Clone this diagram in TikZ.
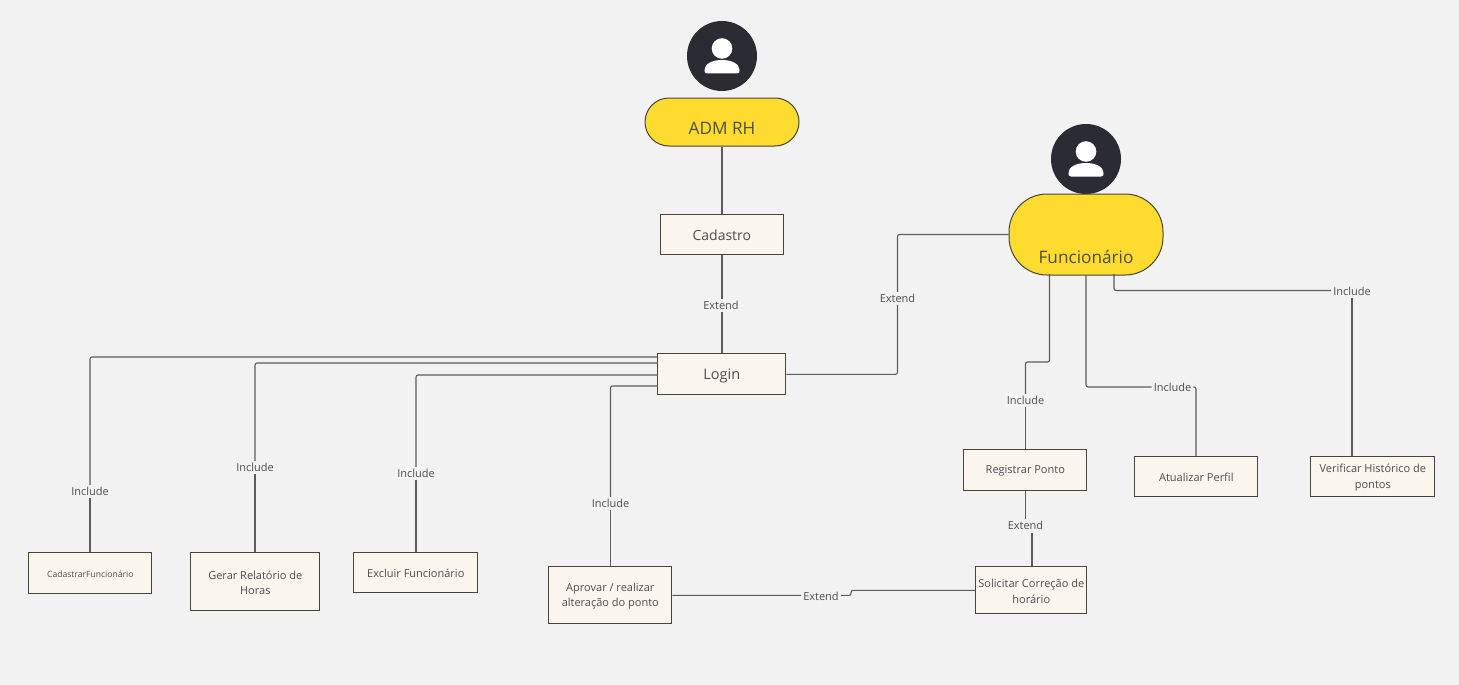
\documentclass[tikz,border=0pt]{standalone}
\usepackage{fontspec}
\setmainfont{Open Sans}
\definecolor{bgc}{HTML}{F2F2F2}
\definecolor{yel}{HTML}{FEDC2F}
\definecolor{dark}{HTML}{2B2C33}
\definecolor{boxfill}{HTML}{FAF6EE}
\definecolor{boxline}{HTML}{45453C}
\definecolor{linec}{HTML}{5C5C5C}
\definecolor{txt}{HTML}{4D4D4D}
\tikzset{
  boxn/.style={draw=boxline,fill=boxfill,line width=1.2pt,inner sep=1pt,xshift=-.2pt,yshift=.2pt},
  boxtxt/.style={text=txt,align=center,inner sep=0pt,yshift=-.9pt,font=\fontsize{11}{15.5}\selectfont},
  bigtxt/.style={boxtxt,font=\fontsize{14}{16}\selectfont},
  pill/.style={draw=boxline,fill=yel,line width=1pt,rounded corners=#1,inner sep=0pt},
  pilltext/.style={text=txt,font=\fontsize{17.2}{20}\selectfont},
  conn/.style={draw=linec,line width=1.1pt,rounded corners=2pt},
  lab/.style={text=txt,font=\fontsize{11}{13}\selectfont,inner sep=2pt},
  avatar/.style={fill=dark,draw=none,circle,minimum size=70pt,inner sep=0pt},
  person/.style={fill=white,draw=none}
}
\newcommand{\personicon}[2]{%
  \fill[person] (#1,#2-7.5) circle (10.3);
  \fill[person] (#1-15,#2+17.5) .. controls (#1-17.5,#2+17.5) and (#1-17.5,#2+16) .. (#1-17.5,#2+14)
     .. controls (#1-17.5,#2+8) and (#1-10,#2+4) .. (#1,#2+4)
     .. controls (#1+10,#2+4) and (#1+17.5,#2+8) .. (#1+17.5,#2+14)
     .. controls (#1+17.5,#2+16) and (#1+17.5,#2+17.5) .. (#1+15,#2+17.5) -- cycle;
}
\begin{document}
\begin{tikzpicture}[x=1pt,y=-1pt]
\path[fill=bgc,use as bounding box] (0,0) rectangle (1459,685);
% actors
\node[avatar] (admicon) at (722,56) {};
\personicon{722}{56}
\node[avatar] (funcicon) at (1086,159) {};
\personicon{1086}{159}
\node[pill=24pt,minimum width=154pt,minimum height=48pt,label={[pilltext,yshift=-6pt]center:ADM RH}] (adm) at (722,122) {};
\node[pill=38pt,minimum width=154pt,minimum height=81pt,label={[pilltext,yshift=-22pt]center:Funcionário}] (func) at (1086,234.5) {};
% boxes
\node[boxn,minimum width=123pt,minimum height=40pt,label={[bigtxt]center:Cadastro}] (cadastro) at (722,235) {};
\node[boxn,minimum width=128pt,minimum height=41pt,label={[bigtxt,yshift=-.6pt,font=\fontsize{14.5}{16}\selectfont]center:Login}] (login) at (722,374.5) {};
\node[boxn,minimum width=123pt,minimum height=41pt,label={[boxtxt,font=\fontsize{8.6}{10}\selectfont]center:CadastrarFuncionário}] (cadf) at (90.5,573.5) {};
\node[boxn,minimum width=129pt,minimum height=58pt,label={[boxtxt]center:Gerar Relatório de\\Horas}] (gerar) at (255.5,582) {};
\node[boxn,minimum width=124pt,minimum height=40pt,label={[boxtxt]center:Excluir Funcionário}] (excluir) at (416,573) {};
\node[boxn,minimum width=123pt,minimum height=57pt,label={[boxtxt]center:Aprovar / realizar\\alteração do ponto}] (aprovar) at (610.5,595.5) {};
\node[boxn,minimum width=111pt,minimum height=47pt,label={[boxtxt]center:Solicitar Correção de\\horário}] (solicitar) at (1031.5,590.5) {};
\node[boxn,minimum width=123pt,minimum height=41pt,label={[boxtxt]center:Registrar Ponto}] (registrar) at (1025.5,470.5) {};
\node[boxn,minimum width=123pt,minimum height=40pt,label={[boxtxt]center:Atualizar Perfil}] (atualizar) at (1196.5,477) {};
\node[boxn,minimum width=124pt,minimum height=40pt,label={[boxtxt]center:Verificar Histórico de\\pontos}] (verificar) at (1373,477) {};
% labels
\node[lab] (e1) at (721,305.4) {Extend};
\node[lab] (e2) at (897.5,298.4) {Extend};
\node[lab] (e3) at (1025.5,525.4) {Extend};
\node[lab] (e4) at (821,596.4) {Extend};
\node[lab] (i1) at (90,491.4) {Include};
\node[lab] (i2) at (255,467.4) {Include};
\node[lab] (i3) at (416,473.4) {Include};
\node[lab] (i4) at (610.5,503.4) {Include};
\node[lab] (i5) at (1025.5,400.4) {Include};
\node[lab] (i6) at (1172.5,387.4) {Include};
\node[lab] (i7) at (1352,291.4) {Include};
% anchor points
\coordinate (l1) at (657.7,357);
\coordinate (l2) at (657.7,363);
\coordinate (l3) at (657.7,375);
\coordinate (l4) at (657.7,386);
\coordinate (fa) at (1049.5,274);
\coordinate (fb) at (1086,275);
\coordinate (fc) at (1114,274);
\coordinate (jogA) at (1049.5,362);
\coordinate (extJ) at (1032,533);
\coordinate (jog4a) at (851,595.4);
\coordinate (jog4b) at (851,590.4);
\coordinate (i6y) at (1172.5,387);
\coordinate (i6r) at (1196,387);
\coordinate (i7y) at (1352,290.5);
% connectors
\draw[conn] (adm.south) -- (adm.south |- cadastro.north);
\draw[conn] (adm.south |- cadastro.south) -- (adm.south |- e1.north);
\draw[conn] (adm.south |- e1.south) -- (adm.south |- login.north);
\draw[conn] (func.west) -| (e2);
\draw[conn] (e2.south) |- (login.east);
\draw[conn] (l1) -| (i1);
\draw[conn] (i1) -- (i1 |- cadf.north);
\draw[conn] (l2) -| (i2);
\draw[conn] (i2) -- (i2 |- gerar.north);
\draw[conn] (l3) -| (i3);
\draw[conn] (i3) -- (i3 |- excluir.north);
\draw[conn] (l4) -| (i4);
\draw[conn] (i4) -- (i4 |- aprovar.north);
\draw[conn] (fa) -- (jogA) -- (jogA -| i5) -- (i5.north);
\draw[conn] (i5) -- (i5 |- registrar.north);
\draw[conn] (fb) |- (i6y -| i6.west);
\draw[conn] (i6y -| i6.east) -- (i6r) -- (i6r |- atualizar.north);
\draw[conn] (fc) |- (i7y -| i7.west);
\draw[conn] (i7) -- (i7 |- verificar.north);
\draw[conn] (e3 |- registrar.south) -- (e3);
\draw[conn] (extJ) -- (extJ |- solicitar.north);
\draw[conn] (aprovar.east) -- (jog4a -| e4.west);
\draw[conn] (jog4a -| e4.east) -- (jog4a) -- (jog4b) -- (jog4b -| solicitar.west);
\end{tikzpicture}
\end{document}
